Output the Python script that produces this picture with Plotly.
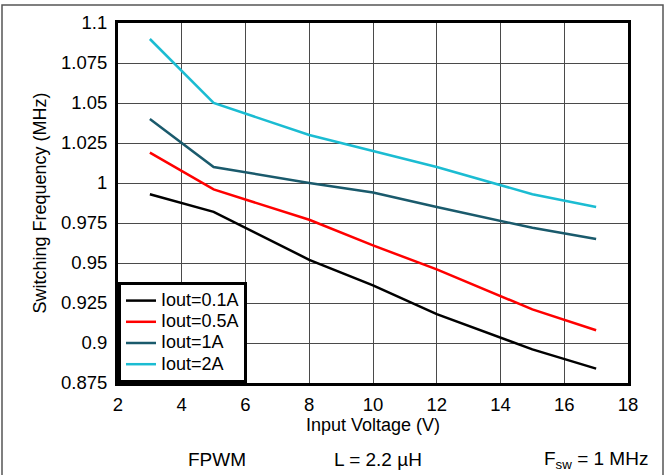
import plotly.graph_objects as go

# Input voltage (V)
vin = [3, 5, 8, 10, 12, 15, 17]

# Switching frequency (MHz) per output current
f_01a = [0.993, 0.982, 0.952, 0.936, 0.918, 0.896, 0.884]
f_05a = [1.019, 0.996, 0.977, 0.961, 0.946, 0.921, 0.908]
f_1a = [1.040, 1.010, 1.000, 0.994, 0.985, 0.972, 0.965]
f_2a = [1.090, 1.050, 1.030, 1.020, 1.010, 0.993, 0.985]

series_names = ["Iout=0.1A", "Iout=0.5A", "Iout=1A", "Iout=2A"]
series_colors = ["#000000", "#ff0000", "#1a5a6c", "#1bbcd2"]

x_ticks = [2, 4, 6, 8, 10, 12, 14, 16, 18]
y_ticks = [0.875, 0.9, 0.925, 0.95, 0.975, 1.0, 1.025, 1.05, 1.075, 1.1]
y_labels = ["0.875", "0.9", "0.925", "0.95", "0.975", "1", "1.025", "1.05", "1.075", "1.1"]

FONT = "Liberation Sans, Arial, sans-serif"

fig = go.Figure()
for name, ys, color in zip(series_names, [f_01a, f_05a, f_1a, f_2a], series_colors):
    fig.add_trace(go.Scatter(
        x=vin, y=ys, mode="lines",
        # bigger text than the legend font keeps the rows tight like the original
        name=f"<span style='font-size:18px'>{name}</span>",
        line=dict(color=color, width=2.5),
    ))

# plot area in pixels: x 118..628, y 23..383
L, R, T, B = 118, 40, 23, 92
W, H = 668, 475
pw, ph = W - L - R, H - T - B


def px(x):
    return (x - L) / pw


def py(y):
    return (H - B - y) / ph


axis_common = dict(
    showgrid=True, gridcolor="#4a4a4a", gridwidth=1,
    showline=True, linecolor="black", linewidth=3, mirror=True,
    ticks="", zeroline=False,
    tickfont=dict(size=18.5, color="black", family=FONT),
)

fig.update_layout(
    width=W, height=H,
    margin=dict(l=L, r=R, t=T, b=B),
    plot_bgcolor="white", paper_bgcolor="white",
    font=dict(family=FONT, color="black", size=18),
    xaxis=dict(
        range=[2, 18], tickvals=x_ticks, ticklabelstandoff=3,
        title=dict(text="Input Voltage (V)", font=dict(size=18), standoff=2),
        **axis_common,
    ),
    yaxis=dict(
        range=[0.875, 1.1], tickvals=y_ticks, ticktext=y_labels, ticklabelstandoff=4,
        title=dict(text="Switching Frequency (MHz)", font=dict(size=18), standoff=10),
        **axis_common,
    ),
    legend=dict(
        x=0, y=0, xanchor="left", yanchor="bottom",
        bgcolor="white", bordercolor="black", borderwidth=3,
        font=dict(size=14, family=FONT),
        tracegroupgap=0,
    ),
    showlegend=True,
)

# outer gray frame
fig.add_shape(
    type="rect", xref="paper", yref="paper",
    x0=px(2), x1=px(663), y0=py(490), y1=py(5),
    line=dict(color="#555555", width=1.5), layer="below",
)

notes = [
    ("FPWM", 217, "center"),
    ("L = 2.2 µH", 378, "center"),
    ("F<sub>sw</sub> = 1 MHz", 650, "right"),
]
for text, xpix, anchor in notes:
    fig.add_annotation(
        text=text, xref="paper", yref="paper",
        x=px(xpix), y=py(460), xanchor=anchor, yanchor="middle",
        showarrow=False, font=dict(size=19, family=FONT, color="black"),
    )

fig.write_html(
    "out.html",
    config={"displayModeBar": False},
    post_script="document.body.style.margin='0';",
)
